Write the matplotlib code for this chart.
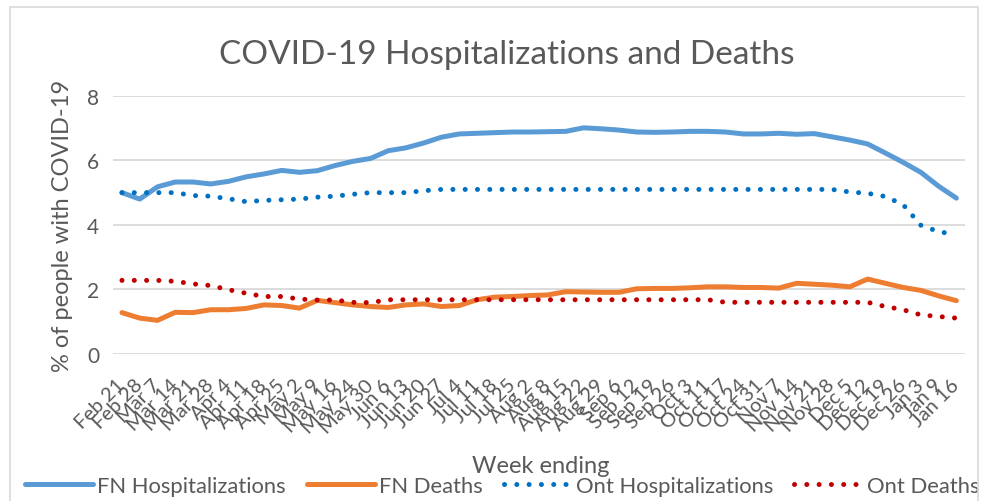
import matplotlib.pyplot as plt
from matplotlib.patches import Rectangle

weeks = ["Feb 21", "Feb 28", "Mar 7", "Mar 14", "Mar 21", "Mar 28", "Apr 4", "Apr 11",
         "Apr 18", "Apr 25", "May 2", "May 9", "May 16", "May 24", "May 30", "Jun 6",
         "Jun 13", "Jun 20", "Jun 27", "Jul 4", "Jul 11", "Jul 18", "Jul 25", "Aug 2",
         "Aug 8", "Aug 15", "Aug 22", "Aug 29", "Sep 6", "Sep 12", "Sep 19", "Sep 26",
         "Oct 3", "Oct 11", "Oct 17", "Oct 24", "Oct 31", "Nov 7", "Nov 14", "Nov 21",
         "Nov 28", "Dec 5", "Dec 12", "Dec 19", "Dec 26", "Jan 3", "Jan 9", "Jan 16"]

fn_hosp = [5.0, 4.8, 5.18, 5.33, 5.33, 5.27, 5.35, 5.49, 5.58, 5.69, 5.63, 5.68,
           5.84, 5.97, 6.06, 6.30, 6.39, 6.54, 6.72, 6.82, 6.84, 6.86, 6.88, 6.88,
           6.89, 6.9, 7.01, 6.98, 6.94, 6.88, 6.87, 6.88, 6.9, 6.9, 6.88, 6.82,
           6.82, 6.84, 6.81, 6.83, 6.73, 6.63, 6.51, 6.23, 5.94, 5.63, 5.2, 4.83]

fn_deaths = [1.28, 1.11, 1.04, 1.29, 1.28, 1.37, 1.37, 1.41, 1.52, 1.5, 1.42, 1.66,
             1.59, 1.52, 1.47, 1.44, 1.52, 1.55, 1.47, 1.5, 1.68, 1.76, 1.78, 1.81,
             1.83, 1.93, 1.92, 1.91, 1.91, 2.02, 2.03, 2.03, 2.05, 2.08, 2.08, 2.06,
             2.06, 2.04, 2.19, 2.16, 2.13, 2.08, 2.32, 2.19, 2.06, 1.97, 1.80, 1.65]

ont_hosp = [5.0, 5.0, 5.0, 5.0, 4.91, 4.89, 4.81, 4.72, 4.76, 4.78, 4.8, 4.86,
            4.89, 4.95, 5.0, 5.0, 5.0, 5.06, 5.1, 5.1, 5.1, 5.1, 5.1, 5.1,
            5.1, 5.1, 5.1, 5.1, 5.1, 5.1, 5.1, 5.1, 5.1, 5.1, 5.1, 5.1,
            5.1, 5.1, 5.1, 5.1, 5.1, 5.02, 4.98, 4.88, 4.63, 3.99, 3.79, 3.7]

ont_deaths = [2.28, 2.28, 2.28, 2.25, 2.17, 2.12, 1.99, 1.88, 1.78, 1.78, 1.70, 1.67,
              1.67, 1.6, 1.59, 1.68, 1.68, 1.68, 1.68, 1.68, 1.68, 1.68, 1.68, 1.68,
              1.68, 1.68, 1.68, 1.68, 1.68, 1.68, 1.68, 1.68, 1.68, 1.68, 1.6, 1.6,
              1.6, 1.6, 1.6, 1.6, 1.6, 1.6, 1.6, 1.47, 1.37, 1.21, 1.16, 1.11]

plt.rcParams['font.family'] = ['Lato', 'DejaVu Sans']
GREY = "#595959"

fig = plt.figure(figsize=(9.92, 5.02), dpi=100)
fig.patches.append(Rectangle((0.010, -0.01), 0.976, 0.994, transform=fig.transFigure,
                             fill=False, edgecolor="#D9D9D9", linewidth=1.2))
ax = fig.add_axes([0.114, 0.293, 0.859, 0.514])

x = list(range(len(weeks)))
ax.plot(x, fn_hosp, color="#5B9BD5", lw=3.6, label="FN Hospitalizations", solid_capstyle="round")
ax.plot(x, fn_deaths, color="#ED7D31", lw=3.6, label="FN Deaths", solid_capstyle="round")
ax.plot(x, ont_hosp, color="#0070C0", lw=3.6, linestyle=(0, (0.01, 2.45)),
        dash_capstyle="round", label="Ont Hospitalizations")
ax.plot(x, ont_deaths, color="#C00000", lw=3.6, linestyle=(0, (0.01, 2.45)),
        dash_capstyle="round", label="Ont Deaths")

ax.set_xlim(-0.5, len(weeks) - 0.5)
ax.set_ylim(0, 8)
ax.set_yticks([0, 2, 4, 6, 8])
ax.grid(axis="y", color="#D9D9D9", lw=1.3)
ax.set_axisbelow(True)
for s in ax.spines.values():
    s.set_visible(False)
ax.tick_params(length=0, colors=GREY, labelsize=15)
ax.tick_params(axis="y", pad=10)
ax.tick_params(axis="x", pad=20)
ax.set_xticks(x)
ax.set_xticklabels(weeks, rotation=45, ha="right", va="center",
                   rotation_mode="anchor", fontsize=14.5)

fig.text(0.511, 0.89, "COVID-19 Hospitalizations and Deaths", fontsize=24,
         color=GREY, ha="center", va="center")
ax.set_ylabel("% of people with COVID-19", fontsize=17, color=GREY, labelpad=10)
fig.text(0.545, 0.07, "Week ending", fontsize=17, color=GREY, ha="center", va="center")

ax.legend(loc="center", bbox_to_anchor=(0.506, 0.03), bbox_transform=fig.transFigure,
          ncol=4, frameon=False, fontsize=15.8, handlelength=3.1, handletextpad=0.2,
          columnspacing=0.95, labelcolor=GREY)

fig.savefig("out.png", dpi=100)
